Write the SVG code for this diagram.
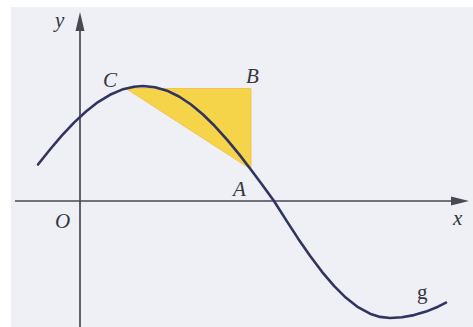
<svg xmlns="http://www.w3.org/2000/svg" width="473" height="327" viewBox="0 0 473 327">
  <style>
    .lbl { font-family: "Liberation Serif", "DejaVu Serif", serif; font-style: italic; font-size: 21px; fill: #35363d; }
    .up { font-style: normal; }
    .axis { stroke: #474953; stroke-width: 1.7; fill: none; }
    .head { fill: #474953; }
    .curve { stroke: #2f3462; stroke-width: 2.6; fill: none; stroke-linejoin: round; stroke-linecap: round; }
  </style>
  <rect x="0" y="0" width="473" height="327" fill="#ffffff"/>
  <rect x="11" y="7" width="462" height="320" fill="#eff0f6"/>

  <g id="triangle">
    <polygon points="126,88.5 251,88.5 251,168 249,168" fill="#f6d44a" stroke="#f2c552" stroke-width="1"/>
  </g>

  <g id="axes">
    <line class="axis" x1="80" y1="28" x2="80" y2="327"/>
    <polygon class="head" points="80,12 84.5,31 75.5,31"/>
    <line class="axis" x1="15" y1="201" x2="455" y2="201"/>
    <polygon class="head" points="469,201 451,196.5 451,205.5"/>
  </g>

  <g id="curve-g">
    <polyline class="curve" points="38,164.5 50,149.5 62,135.4 74,122.6 86,111.5 98,102.1 110,94.8 122,89.6 134,86.7 143,86 155,87.2 167,90.7 179,96.5 191,104.5 203,114.5 215,126.3 227,139.6 239,154.1 251,169.7 262,184.5 274,201 286,219.9 298,238.4 310,255.8 322,271.8 334,285.9 346,297.8 358,307.2 370,313.7 380,316.9 390,318 402,317.3 414,315.1 426,311.6 438,306.7 446,302.7"/>
  </g>

  <g id="labels">
    <text class="lbl" x="55" y="27">y</text>
    <text class="lbl" x="103" y="87">C</text>
    <text class="lbl" x="246" y="83">B</text>
    <text class="lbl" x="233" y="196">A</text>
    <text class="lbl" x="55" y="228">O</text>
    <text class="lbl" x="453" y="225">x</text>
    <text class="lbl up" x="417" y="299">g</text>
  </g>
</svg>
